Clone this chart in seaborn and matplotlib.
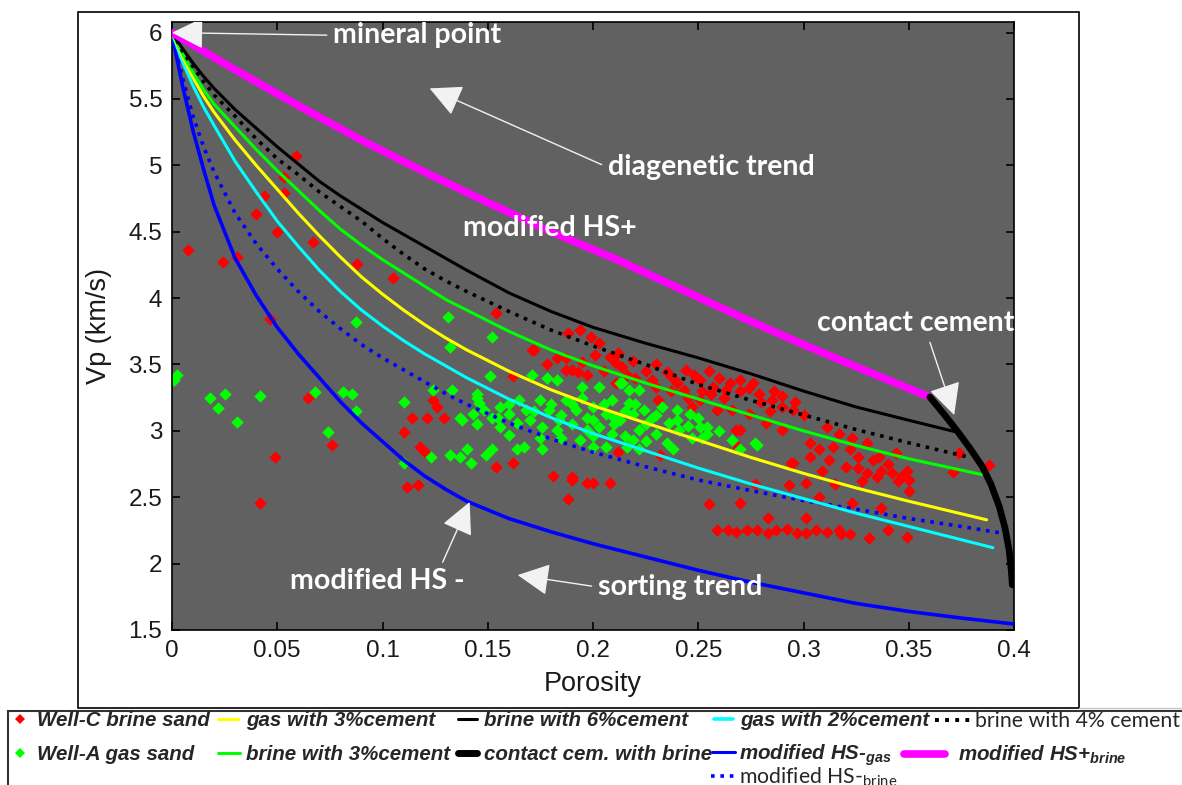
import matplotlib
matplotlib.use("Agg")
import matplotlib.pyplot as plt
import seaborn as sns
from matplotlib.lines import Line2D
from matplotlib.patches import Rectangle

# ---------------- data ----------------
# Well-C brine sand (porosity, Vp km/s)
well_c_phi = [0.0076, 0.024, 0.031, 0.0437, 0.053, 0.04, 0.05, 0.067, 0.088, 0.105, 0.059, 0.053, 0.0465,
              0.0645, 0.076, 0.049, 0.042, 0.1115, 0.181, 0.19, 0.197, 0.188, 0.255, 0.277, 0.283,
              0.259, 0.264, 0.268, 0.273, 0.278, 0.283, 0.287, 0.292, 0.297, 0.301, 0.306, 0.311, 0.317,
              0.322, 0.331, 0.34, 0.349, 0.318,
              0.194, 0.188, 0.199, 0.203, 0.171, 0.183, 0.187, 0.201, 0.19, 0.187, 0.193, 0.197, 0.211,
              0.214, 0.219, 0.212, 0.211, 0.238, 0.244, 0.251, 0.257, 0.263, 0.27, 0.274, 0.279, 0.285,
              0.29, 0.295, 0.251, 0.259, 0.266, 0.274, 0.282, 0.29, 0.243, 0.247, 0.23, 0.231, 0.268,
              0.269, 0.294, 0.293, 0.19, 0.2, 0.208, 0.212, 0.232, 0.154, 0.162, 0.172, 0.162, 0.124,
              0.126, 0.114, 0.121, 0.129, 0.11, 0.118, 0.12, 0.117, 0.154,
              0.225, 0.23, 0.235, 0.24, 0.248, 0.255, 0.26, 0.265, 0.27, 0.276, 0.28, 0.286, 0.29, 0.296,
              0.3, 0.284, 0.262, 0.256, 0.245, 0.22, 0.205, 0.216, 0.228, 0.208, 0.195, 0.178, 0.237, 0.252,
              0.27, 0.311, 0.303, 0.295, 0.314, 0.322, 0.326, 0.333, 0.337, 0.342, 0.349, 0.35, 0.33, 0.32,
              0.309, 0.301, 0.303, 0.317, 0.323, 0.33, 0.3075, 0.336, 0.344, 0.35, 0.3075, 0.301, 0.27,
              0.323, 0.337, 0.374, 0.371, 0.388, 0.345, 0.34, 0.328, 0.315, 0.312, 0.335, 0.347, 0.326]
well_c_vp = [4.36, 4.27, 4.31, 4.77, 4.79, 4.63, 4.5, 4.42, 4.26, 4.15, 5.07, 4.91, 3.84,
             3.25, 2.89, 2.80, 2.46, 2.58, 2.66, 2.63, 2.61, 2.49, 2.45, 2.60, 2.34,
             2.25, 2.25, 2.24, 2.25, 2.25, 2.23, 2.25, 2.26, 2.23, 2.23, 2.25, 2.24, 2.25,
             2.22, 2.19, 2.25, 2.20, 2.22,
             3.76, 3.74, 3.71, 3.66, 3.61, 3.55, 3.55, 3.57, 3.46, 3.46, 3.44, 3.42, 3.51,
             3.48, 3.53, 3.59, 3.36, 3.40, 3.46, 3.38, 3.33, 3.31, 3.38, 3.32, 3.28, 3.23,
             3.18, 3.16, 3.23, 3.16, 3.16, 3.13, 3.06, 3.01, 3.31, 3.18, 3.33, 3.23, 3.01,
             2.88, 2.76, 2.59, 2.65, 2.61, 2.61, 2.84, 2.82, 2.73, 2.76, 3.61, 3.41, 3.23,
             3.18, 3.10, 3.10, 3.10, 2.99, 2.88, 2.84, 2.59, 3.89,
             3.45, 3.50, 3.44, 3.36, 3.42, 3.45, 3.40, 3.36, 3.30, 3.36, 3.22, 3.30, 3.26, 3.22,
             3.12, 3.15, 3.25, 3.28, 3.25, 3.40, 3.45, 3.42, 3.38, 3.56, 3.52, 3.50, 3.30, 3.30,
             3.01, 3.03, 2.91, 2.76, 2.88, 2.86, 2.80, 2.78, 2.70, 2.68, 2.70, 2.63, 2.68, 2.73,
             2.70, 2.61, 2.80, 2.98, 2.95, 2.91, 2.86, 2.80, 2.83, 2.55, 2.50, 2.34, 2.46,
             2.46, 2.42, 2.83, 2.69, 2.74, 2.62, 2.75, 2.62, 2.60, 2.78, 2.65, 2.66, 2.72]

# Well-A gas sand (porosity, Vp km/s)
well_a_phi = [0.0024, 0.001, 0.018, 0.025, 0.022, 0.031, 0.042, 0.068, 0.074, 0.081, 0.0855, 0.0873, 0.0873,
              0.131, 0.152, 0.132, 0.151, 0.171, 0.178, 0.183, 0.195, 0.203, 0.214, 0.222, 0.11, 0.133,
              0.145, 0.146,
              0.156, 0.16, 0.165, 0.168, 0.175, 0.179, 0.184, 0.187, 0.192, 0.197, 0.2, 0.206, 0.209,
              0.213, 0.217, 0.219, 0.224, 0.228, 0.233, 0.236, 0.241, 0.246, 0.251, 0.254, 0.203, 0.209,
              0.219, 0.222, 0.197, 0.19, 0.183, 0.176, 0.17, 0.164, 0.156, 0.148, 0.143, 0.138, 0.145,
              0.152, 0.206, 0.216, 0.222, 0.235, 0.2, 0.194, 0.213, 0.217, 0.238, 0.247, 0.266, 0.277,
              0.27, 0.164, 0.167, 0.176, 0.152, 0.132, 0.137, 0.14, 0.142, 0.149, 0.123, 0.11, 0.137,
              0.145, 0.124, 0.254, 0.252, 0.278,
              0.185, 0.19, 0.195, 0.2, 0.205, 0.21, 0.215, 0.22, 0.225, 0.23, 0.24, 0.245, 0.21, 0.2,
              0.215, 0.23, 0.225, 0.18, 0.172, 0.16, 0.155, 0.185, 0.175, 0.16, 0.24, 0.25, 0.26]
well_a_vp = [3.42, 3.38, 3.25, 3.28, 3.17, 3.07, 3.26, 3.29, 2.99, 3.29, 3.28, 3.15, 3.82,
             3.86, 3.71, 3.63, 3.41, 3.42, 3.40, 3.38, 3.33, 3.33, 3.36, 3.31, 3.22, 3.31,
             3.28, 3.21,
             3.18, 3.13, 3.23, 3.16, 3.23, 3.16, 3.08, 3.23, 3.16, 3.10, 3.18, 3.13, 3.23,
             3.08, 3.21, 3.13, 3.16, 3.10, 3.18, 3.06, 3.01, 3.13, 3.03, 2.98, 3.03, 2.98,
             2.93, 3.01, 3.01, 3.05, 3.01, 3.03, 3.08, 3.06, 3.03, 3.16, 3.13, 3.08, 3.05,
             3.10, 2.88, 2.88, 2.86, 2.91, 2.88, 2.93, 3.36, 3.31, 2.86, 2.95, 2.93, 2.91,
             2.86, 2.86, 2.88, 2.86, 2.86, 2.82, 2.80, 2.86, 2.76, 2.82, 2.80, 2.76, 3.10,
             3.25, 3.31, 3.03, 2.95, 2.89,
             3.12, 3.20, 3.25, 3.08, 3.20, 3.10, 3.15, 3.20, 3.05, 3.12, 3.08, 3.04, 3.05, 2.96,
             2.96, 2.98, 2.92, 3.20, 3.15, 3.20, 3.10, 2.95, 2.95, 2.97, 3.16, 3.10, 3.00]

# model curves: porosity grid shared by the cemented-sand and HS- curves
phi_grid = [0.0, 0.002, 0.005, 0.01, 0.015, 0.02, 0.03, 0.04, 0.05, 0.06, 0.07, 0.08, 0.09, 0.1,
            0.11, 0.12, 0.13, 0.14, 0.16, 0.18, 0.2, 0.225, 0.25, 0.275, 0.3, 0.325, 0.35, 0.375]

hsm_gas_vp = [6.0, 5.83, 5.60, 5.26, 4.97, 4.70, 4.30, 4.02, 3.78, 3.58, 3.40, 3.22, 3.06, 2.92,
              2.78, 2.66, 2.56, 2.47, 2.34, 2.24, 2.15, 2.05, 1.95, 1.86, 1.78, 1.70, 1.64, 1.59]
hsm_brine_vp = [6.0, 5.86, 5.66, 5.37, 5.14, 4.95, 4.64, 4.41, 4.22, 4.05, 3.90, 3.77, 3.65, 3.55,
                3.46, 3.37, 3.28, 3.20, 3.06, 2.94, 2.84, 2.73, 2.63, 2.55, 2.475, 2.41, 2.34, 2.28]
gas2_vp = [6.0, 5.91, 5.78, 5.60, 5.44, 5.30, 5.03, 4.80, 4.58, 4.39, 4.21, 4.05, 3.91, 3.79,
           3.68, 3.58, 3.49, 3.40, 3.24, 3.10, 2.98, 2.85, 2.72, 2.60, 2.49, 2.38, 2.28, 2.18]
gas3_vp = [6.0, 5.93, 5.82, 5.66, 5.52, 5.40, 5.19, 5.00, 4.82, 4.64, 4.47, 4.31, 4.16, 4.03,
           3.91, 3.80, 3.70, 3.61, 3.45, 3.31, 3.19, 3.06, 2.93, 2.80, 2.68, 2.57, 2.47, 2.37]
brine3_vp = [6.0, 5.94, 5.84, 5.70, 5.57, 5.46, 5.29, 5.12, 4.96, 4.81, 4.66, 4.52, 4.40, 4.29,
             4.19, 4.09, 3.99, 3.91, 3.75, 3.61, 3.49, 3.36, 3.24, 3.12, 3.00, 2.89, 2.79, 2.70]
cem4_vp = [6.0, 5.95, 5.86, 5.74, 5.63, 5.53, 5.37, 5.20, 5.05, 4.93, 4.80, 4.69, 4.58, 4.45,
           4.33, 4.22, 4.13, 4.05, 3.90, 3.76, 3.64, 3.50, 3.35, 3.23, 3.12, 3.01, 2.91, 2.81]
cem6_vp = [6.0, 5.95, 5.88, 5.77, 5.67, 5.58, 5.42, 5.28, 5.14, 5.01, 4.88, 4.77, 4.67, 4.57,
           4.48, 4.39, 4.30, 4.21, 4.04, 3.90, 3.78, 3.66, 3.55, 3.43, 3.30, 3.18, 3.08, 2.99]

# curve end points beyond the shared grid
hsm_end_phi, hsm_gas_end, hsm_brine_end = 0.4, 1.545, 2.215
gas2_end = (0.39, 2.12)
gas3_end = (0.387, 2.33)
brine3_end = (0.385, 2.67)
cem4_end = (0.379, 2.80)

hs_plus_phi = [0.0, 0.03, 0.06, 0.09, 0.12, 0.15, 0.18, 0.21, 0.24, 0.27, 0.3, 0.33, 0.36]
hs_plus_vp = [6.0, 5.72, 5.45, 5.19, 4.95, 4.72, 4.50, 4.30, 4.08, 3.86, 3.65, 3.45, 3.255]

contact_phi = [0.36, 0.366, 0.373, 0.379, 0.385, 0.389, 0.393, 0.3957, 0.3977, 0.3987, 0.3992]
contact_vp = [3.255, 3.14, 3.0, 2.87, 2.73, 2.60, 2.43, 2.27, 2.10, 1.95, 1.84]

x_ticks = [0, 0.05, 0.1, 0.15, 0.2, 0.25, 0.3, 0.35, 0.4]
x_tick_labels = ["0", "0.05", "0.1", "0.15", "0.2", "0.25", "0.3", "0.35", "0.4"]
y_ticks = [1.5, 2, 2.5, 3, 3.5, 4, 4.5, 5, 5.5, 6]
y_tick_labels = ["1.5", "2", "2.5", "3", "3.5", "4", "4.5", "5", "5.5", "6"]

# ---------------- figure ----------------
sns.set_style("ticks")
plt.rcParams["font.family"] = ["Liberation Sans", "DejaVu Sans"]
plt.rcParams["mathtext.default"] = "regular"

W, H = 1182, 785
fig = plt.figure(figsize=(W / 100, H / 100), dpi=100)
fig.patch.set_facecolor("white")


def fx(px):
    return px / W


def fy(py):
    return 1 - py / H


ax = fig.add_axes([fx(172), fy(630), fx(1014) - fx(172), fy(22) - fy(630)])
ax.set_facecolor("#616161")

diamond = dict(marker="D", s=40, linewidth=0, legend=False, ax=ax, zorder=2)
sns.scatterplot(x=well_c_phi, y=well_c_vp, color="#ff0000", **diamond)
sns.scatterplot(x=well_a_phi, y=well_a_vp, color="#00ff00", **diamond)

dot = (0, (1.0, 1.6))


def curve(xs, ys, c, lw, ls="-", z=3):
    sns.lineplot(x=xs, y=ys, color=c, linewidth=lw, linestyle=ls, sort=False,
                 estimator=None, legend=False, ax=ax, zorder=z)


curve(phi_grid + [hsm_end_phi], hsm_gas_vp + [hsm_gas_end], "#0000ff", 2.6)
curve(phi_grid + [hsm_end_phi], hsm_brine_vp + [hsm_brine_end], "#0000ff", 2.6, dot)
curve(phi_grid[:-1] + [gas2_end[0]], gas2_vp[:-1] + [gas2_end[1]], "#00ffff", 2.2)
curve(phi_grid[:-1] + [gas3_end[0]], gas3_vp[:-1] + [gas3_end[1]], "#ffff00", 2.2)
curve(phi_grid[:-1] + [brine3_end[0]], brine3_vp[:-1] + [brine3_end[1]], "#00ff00", 2.2)
curve(phi_grid[:-1] + [cem4_end[0]], cem4_vp[:-1] + [cem4_end[1]], "black", 2.6, dot)
curve(phi_grid[:-1] + [0.373], cem6_vp, "black", 2.2)
curve(hs_plus_phi, hs_plus_vp, "#ff00ff", 5.5, z=4)
curve(contact_phi, contact_vp, "black", 4.8, z=4)

ax.set_xlim(0, 0.4)
ax.set_ylim(1.5, 6.08)
ax.set_xticks(x_ticks)
ax.set_xticklabels(x_tick_labels)
ax.set_yticks(y_ticks)
ax.set_yticklabels(y_tick_labels)
ax.tick_params(direction="in", top=True, right=True, length=6, width=1.2,
               labelsize=17.5, pad=7, color="black", labelcolor="#1a1a1a")
for s in ax.spines.values():
    s.set_color("black")
    s.set_linewidth(1.2)
ax.set_xlabel("Porosity", fontsize=19.5, labelpad=7, color="#1a1a1a")
ax.set_ylabel("Vp (km/s)", fontsize=19.5, labelpad=12, color="#1a1a1a")

# ---------------- annotations ----------------
afont = dict(family=["Lato", "DejaVu Sans"], fontweight="bold", fontsize=20.5, color="white")
head = "-|>,head_length=1.0,head_width=0.5"


def arrow(text, xy, xytext, relpos, clip=False):
    a = ax.annotate(text, xy=xy, xytext=xytext, ha="left", va="center", zorder=6,
                    arrowprops=dict(arrowstyle=head, mutation_scale=20, color="#f2f2f2",
                                    lw=1.0, shrinkA=2, shrinkB=0, relpos=relpos),
                    annotation_clip=False, **afont)
    if clip:
        a.arrow_patch.set_clip_box(ax.bbox)
        a.arrow_patch.set_clip_on(True)
    return a


arrow("mineral point", (0.0, 6.0), (0.0764, 5.98), (0.0, 0.5), clip=True)
arrow("diagenetic trend", (0.1224, 5.58), (0.2069, 4.986), (0.0, 0.5))
arrow("contact cement", (0.3716, 3.119), (0.3066, 3.81), (0.56, 0.0))
arrow("modified HS -", (0.1414, 2.464), (0.056, 1.869), (0.86, 1.0))
arrow("sorting trend", (0.1642, 1.914), (0.2022, 1.824), (0.0, 0.5))
ax.text(0.1381, 4.527, "modified HS+", ha="left", va="center", zorder=6, **afont)

# ---------------- frames ----------------
fig.add_artist(Rectangle((fx(78), fy(708)), fx(1079) - fx(78), fy(12) - fy(708),
                         transform=fig.transFigure, fill=False, ec="black", lw=1.2))
fig.add_artist(Line2D([fx(1079), fx(1182)], [fy(708), fy(708)], transform=fig.transFigure,
                      color="#c8c8c8", lw=1.0))
fig.add_artist(Rectangle((fx(8), fy(800)), fx(1200) - fx(8), fy(711) - fy(800),
                         transform=fig.transFigure, fill=False, ec="#333333", lw=1.5,
                         clip_on=False))

# ---------------- legend ----------------
lfont = dict(family=["Liberation Sans", "DejaVu Sans"], weight="bold", style="italic", size=14.8)
rfont = dict(family=["Lato", "DejaVu Sans"], size=15.3)


def entry(handle, label, x, y, hl, pad, prop=lfont):
    fig.legend(handles=[handle], labels=[label], loc="center left",
               bbox_to_anchor=(fx(x), fy(y)), frameon=False, borderpad=0,
               borderaxespad=0, handlelength=hl, handletextpad=pad, prop=prop)


def ln(c, lw, ls="-"):
    return Line2D([], [], color=c, lw=lw, linestyle=ls)


def mk(c):
    return Line2D([], [], color=c, marker="D", markersize=5.5, linestyle="none", markeredgewidth=0)


entry(mk("#ff0000"), "Well-C brine sand", 12, 721, 0.8, 0.43)
entry(mk("#00ff00"), "Well-A gas sand", 12, 755, 0.8, 0.43)
entry(ln("#ffff00", 2.2), "gas with 3%cement", 218, 721, 0.97, 0.39)
entry(ln("#00ff00", 2.2), "brine with 3%cement", 218, 755, 1.07, 0.29)
entry(ln("black", 2.2), "brine with 6%cement", 458, 721, 0.92, 0.34)
entry(ln("black", 5.0), "contact cem. with brine", 458, 755, 0.92, 0.34)
entry(ln("#00ffff", 2.6), "gas with 2%cement", 714, 721, 0.92, 0.34)
entry(ln("#0000ff", 2.2), "modified HS-$_{gas}$", 712, 755, 1.12, 0.2)
entry(ln("#0000ff", 2.6, dot), "modified HS-$_{brine}$", 711, 777, 1.13, 0.19, rfont)
entry(ln("black", 2.8, dot), "brine with 4% cement", 935, 721, 1.65, 0.24, rfont)
entry(ln("#ff00ff", 5.5), "modified HS+$_{brine}$", 904, 755, 2.0, 0.63)

fig.savefig("out.png", dpi=100, facecolor="white")
